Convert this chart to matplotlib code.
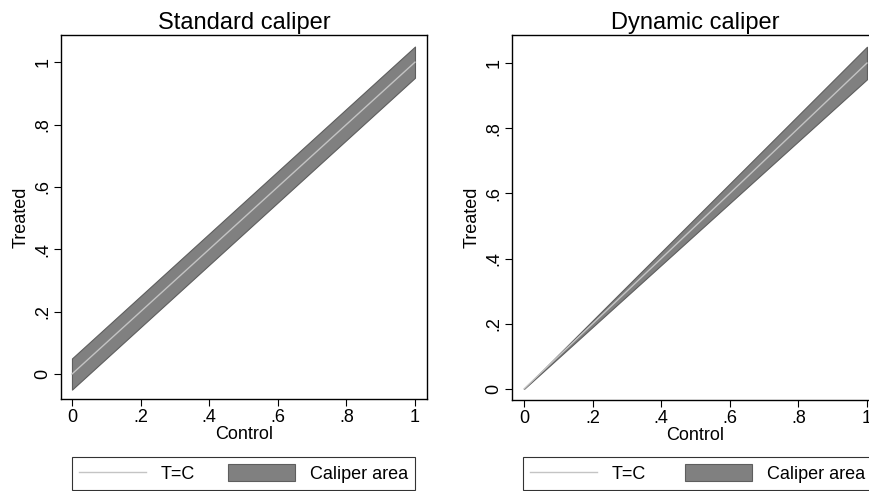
import numpy as np
import matplotlib.pyplot as plt
from matplotlib.patches import Patch
from matplotlib.lines import Line2D

plt.rcParams['font.family'] = ['Liberation Sans', 'DejaVu Sans']

# Data
control = np.array([0.0, 1.0])
caliper = 0.05
titles = ['Standard caliper', 'Dynamic caliper']
xticks = [0, 0.2, 0.4, 0.6, 0.8, 1]
xticklabels = ['0', '.2', '.4', '.6', '.8', '1']
yticks = [0, 0.2, 0.4, 0.6, 0.8, 1]
yticklabels = ['0', '.2', '.4', '.6', '.8', '1']

band_color = '#808080'
band_edge = '#5e5e5e'
line_color = '#c4c4c4'

fig = plt.figure(figsize=(8.7, 4.91), dpi=100)
ax1 = fig.add_axes([0.0701, 0.1874, 0.4207, 0.7413])
ax2 = fig.add_axes([0.5885, 0.1853, 0.4218, 0.7434])

# standard: constant width band
ax1.fill_between(control, control - caliper, control + caliper,
                 facecolor=band_color, edgecolor=band_edge, linewidth=0.8)
ax1.plot(control, control, color=line_color, linewidth=1.0)
ax1.set_xlim(-0.032, 1.035)
ax1.set_ylim(-0.080, 1.087)

# dynamic: band proportional to the score
ax2.fill_between(control, control * (1 - caliper), control * (1 + caliper),
                 facecolor=band_color, edgecolor=band_edge, linewidth=0.8)
ax2.plot(control, control, color=line_color, linewidth=1.0)
ax2.set_xlim(-0.035, 1.035)
ax2.set_ylim(-0.034, 1.086)

for ax, title in zip([ax1, ax2], titles):
    ax.set_title(title, fontsize=17, pad=4)
    ax.set_xticks(xticks)
    ax.set_xticklabels(xticklabels)
    ax.set_yticks(yticks)
    ax.set_yticklabels(yticklabels, rotation=90, va='center')
    ax.tick_params(direction='out', length=5, width=0.8, labelsize=13, pad=2)
    ax.set_xlabel('Control', fontsize=13, labelpad=0)
    ax.set_ylabel('Treated', fontsize=13, labelpad=3)
    for s in ax.spines.values():
        s.set_linewidth(1.0)
        s.set_color('black')

handles = [Line2D([], [], color=line_color, linewidth=1.0),
           Patch(facecolor=band_color, edgecolor=band_edge, linewidth=0.8)]
labels = ['T=C', 'Caliper area']

for x0, x1 in [(72, 415), (523, 872)]:
    leg = fig.legend(handles, labels, ncol=2, mode='expand',
                     loc='lower left',
                     bbox_to_anchor=(x0 / 870, 1 - 490 / 491, (x1 - x0) / 870, 32 / 491),
                     bbox_transform=fig.transFigure,
                     fontsize=13, handlelength=3.7, handleheight=1.05,
                     handletextpad=0.8, borderaxespad=0, fancybox=False,
                     frameon=True, borderpad=0.4)
    leg.get_frame().set_edgecolor('black')
    leg.get_frame().set_linewidth(0.8)

fig.savefig('out.png', dpi=100, facecolor='white')
